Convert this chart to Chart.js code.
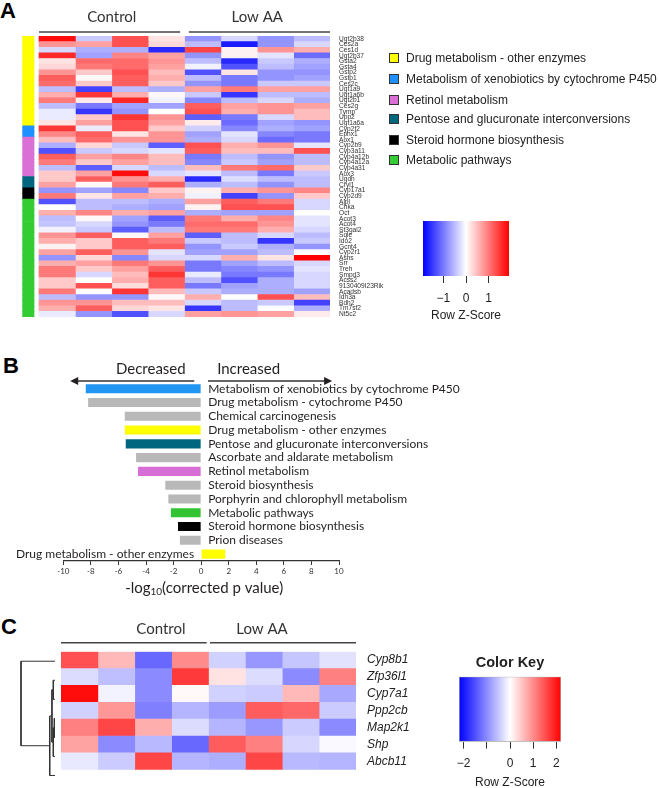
<!DOCTYPE html>
<html>
<head>
<meta charset="utf-8">
<script src="https://cdn.jsdelivr.net/npm/chart.js@4.4.1/dist/chart.umd.min.js"></script>
<style>
    body { margin: 0; background: #fff; }
    #fig { position: relative; width: 659px; height: 788px; overflow: hidden; font-family: "Liberation Sans", Arial, sans-serif; color: #222; }
    canvas { position: absolute; }
    .panel { position: absolute; font: bold 22px/22px "Liberation Sans", Arial, sans-serif; color: #000; }
    .leg { position: absolute; left: 389px; height: 14px; font-size: 12px; line-height: 14px; white-space: nowrap; }
    .leg i { position: absolute; left: 0; top: 2px; width: 8px; height: 8px; border: 1px solid #333; }
    .leg span { position: absolute; left: 17px; top: 0; }
</style>
</head>
<body>
<div id="fig">
    <div class="panel" style="left:0;top:0">A</div>
    <div class="panel" style="left:3px;top:355px">B</div>
    <div class="panel" style="left:1px;top:616px">C</div>
    <canvas id="heatA" width="420" height="330" style="left:0;top:0"></canvas>
    <canvas id="keyA" width="140" height="130" style="left:400px;top:200px"></canvas>
    <canvas id="barsB" width="659" height="260" style="left:0;top:340px"></canvas>
    <canvas id="heatC" width="420" height="188" style="left:0;top:600px"></canvas>
    <canvas id="dendroC" width="61" height="188" style="left:0;top:600px"></canvas>
    <canvas id="keyC" width="150" height="148" style="left:440px;top:640px"></canvas>
    <div id="legendA"></div>
</div>
<script>
// ---- data: panel A ----
const GROUPS = ['Control', 'Low AA'];
const GENES_A = ['Ugt2b38', 'Ces2a', 'Ces1d', 'Ugt2b37', 'Gsta2', 'Gsta4', 'Gstp2', 'Gstp1', 'Ces2c', 'Ugt1a9',
    'Ugt1a6b', 'Ugt2b1', 'Ces2g', 'Tymp', 'Upp2', 'Ugt1a6a', 'Cyp2f2', 'Ephx1', 'Aox1', 'Cyp2b9',
    'Cyp3a11', 'Cyp4a12b', 'Cyp4a12a', 'Cyp4a31', 'Aox3', 'Ugdh', 'Cryl1', 'Cyp17a1', 'Cyp2d9', 'Alpl',
    'Chka', 'Oct', 'Acot3', 'Acot4', 'St3gal2', 'Sqle', 'Ido2', 'Gcnt4', 'Cyp2r1', 'Asns',
    'Srr', 'Treh', 'Smpd3', 'Acss2', '9130409I23Rik', 'Acadsb', 'Idh3a', 'Bdh2', 'Tm7sf2', 'Nt5c2'];
const PATHWAYS = ['Drug metabolism - other enzymes', 'Metabolism of xenobiotics by cytochrome P450', 'Retinol metabolism',
    'Pentose and glucuronate interconversions', 'Steroid hormone biosynthesis', 'Metabolic pathways'];
const PATHWAY_COLORS = ['#ffff00', '#1e90ff', '#da70d6', '#00667f', '#000000', '#33cc33'];
const PATHWAY_SIZES = [16, 2, 7, 2, 2, 21]; // genes per pathway, in row order
// row z-scores, 4 Control then 4 Low AA
const Z_A = [
    [1.8, -0.4, 1.3, 0.2, -0.8, -0.3, -0.8, -0.5],
    [0.8, 0.7, 1.3, 0.3, -0.5, -1.7, -0.8, -0.3],
    [-0.3, -0.6, -0.6, -1.6, 1.4, 0.1, 0.8, 0.6],
    [1.6, -0.7, 0.9, 0.7, -0.8, 0.1, -0.2, -1.1],
    [0.2, 1.1, 1.1, 0.8, -0.5, -1.6, -0.4, -0.6],
    [0.3, 1.0, 1.1, 0.7, -0.1, -1.3, -0.5, -0.7],
    [0.8, 0.4, 1.3, 0.5, -1.3, 0.2, -0.8, -0.8],
    [1.2, 0.05, 1.2, 0.6, -0.5, -1.0, -0.8, -0.7],
    [1.1, 0.4, 1.2, 0.4, -0.8, -1.0, -0.4, -0.4],
    [-0.5, -1.4, -0.5, -0.6, 0.7, 1.0, 0.7, 0.7],
    [0.6, 1.5, 0.6, 0.05, -0.4, -1.5, -0.5, -0.5],
    [1.0, 0.15, 1.6, -0.1, -0.9, -0.5, -0.3, -0.6],
    [-0.5, -1.0, -0.7, -0.7, 1.2, 0.7, 0.8, 0.7],
    [-0.15, -1.5, -0.8, 0.0, 1.3, 0.6, 0.8, 0.5],
    [-0.15, 0.4, 1.5, 0.8, -1.2, -1.0, -0.3, 0.5],
    [0.2, 0.7, 1.3, 0.7, 0.15, -1.1, -0.7, -0.8],
    [1.5, -0.15, 1.3, 0.4, -0.35, -0.9, -0.6, -0.7],
    [0.9, 1.2, 0.2, 0.8, -0.7, -0.2, -0.9, -1.0],
    [0.5, 1.1, 0.8, 0.8, -0.6, -0.3, -1.1, -1.0],
    [-0.6, 0.3, -0.4, -1.2, 1.3, 0.6, 0.8, -0.2],
    [-1.3, -0.4, -0.3, -0.2, 1.2, 0.5, 0.5, 1.3],
    [1.2, 0.7, 0.9, 0.5, -1.0, -0.5, -0.8, -0.5],
    [1.0, 0.4, 0.7, 0.5, -0.9, -0.4, -0.7, -0.5],
    [-0.5, -1.2, -0.3, -0.5, 0.5, 1.0, 1.1, 0.4],
    [0.4, 0.7, 1.8, -0.3, -0.2, -0.5, -1.0, -0.4],
    [0.4, 1.2, 0.8, 0.6, -1.6, -0.25, -0.5, -0.5],
    [0.7, 0.05, 1.0, 1.2, -0.6, -0.5, -0.8, -0.5],
    [-0.8, -0.7, -0.9, 0.4, 0.1, 0.6, 0.8, 0.9],
    [1.0, 0.2, 0.7, 0.6, -0.1, -1.4, -0.8, 0.4],
    [-1.3, -0.5, -0.5, -0.6, 0.7, 1.2, 1.0, -0.3],
    [0.0, -0.5, -0.6, -0.7, 0.1, 1.3, 1.3, -0.3],
    [0.6, 0.9, 0.6, 0.7, -0.6, -0.7, -0.7, 0.0],
    [-0.5, 0.05, -0.7, -1.2, 1.0, 0.6, 0.9, -0.2],
    [-0.45, -0.3, -0.8, -1.0, 1.1, 1.1, 0.8, -0.2],
    [-0.1, -0.4, -1.2, -0.5, 1.0, 1.0, 0.6, -0.3],
    [0.8, 1.2, 0.05, 0.7, -1.2, -0.5, -0.3, -0.5],
    [0.6, 0.4, 1.2, 1.0, -0.4, -0.5, -1.5, -0.4],
    [0.1, 0.4, 1.2, 1.2, -0.8, -0.4, -0.6, -0.8],
    [0.7, 1.2, 0.8, -0.2, -0.7, -0.7, -0.5, 0.0],
    [-0.8, 0.3, -0.9, -0.3, -0.3, 0.6, 0.2, 1.9],
    [0.6, 0.7, 1.0, 0.8, -1.0, -0.7, -0.5, -0.3],
    [1.0, 0.4, 0.7, 1.2, -1.0, -0.9, -0.8, -0.2],
    [1.0, -0.3, 0.5, 1.5, -0.15, -1.0, -1.0, -0.3],
    [0.4, 0.0, 0.6, 1.2, -0.5, -1.3, -0.6, -0.3],
    [0.4, 1.3, 0.25, 1.2, -1.0, -0.7, -0.6, -0.3],
    [1.0, 0.0, 1.5, 0.5, -0.4, -0.6, -0.6, -0.7],
    [-0.5, -0.8, -0.8, 0.05, 0.6, 0.0, 1.3, 0.5],
    [0.8, 0.8, 0.5, 0.5, -0.3, -0.5, -0.4, -1.4],
    [0.6, 1.2, 0.3, 0.2, -1.5, -0.5, 0.0, -0.6],
    [-0.15, -0.8, -1.3, -0.3, 0.7, 0.8, 0.7, 0.15]
];
const KEY_RANGE_A = [-1.9, 1.9];
const KEY_TICKS_A = [-1, 0, 1];

// ---- data: panel B ----
const TERMS_B = ['Metabolism of xenobiotics by cytochrome P450', 'Drug metabolism - cytochrome P450', 'Chemical carcinogenesis',
    'Drug metabolism - other enzymes', 'Pentose and glucuronate interconversions', 'Ascorbate and aldarate metabolism',
    'Retinol metabolism', 'Steroid biosynthesis', 'Porphyrin and chlorophyll metabolism', 'Metabolic pathways',
    'Steroid hormone biosynthesis', 'Prion diseases', 'Drug metabolism - other enzymes'];
const LOGP_B = [-8.37, -8.2, -5.54, -5.54, -5.47, -4.72, -4.58, -2.6, -2.38, -2.19, -1.68, -1.54, 1.75]; // signed -log10(p)
const COLORS_B = ['#2196f3', '#b8b8b8', '#b8b8b8', '#ffff00', '#00667f', '#b8b8b8', '#d66ed6', '#b8b8b8', '#b8b8b8',
    '#33c433', '#000000', '#b8b8b8', '#ffff00'];
const AXIS_B = [-10, 10];

// ---- data: panel C ----
const GENES_C = ['Cyp8b1', 'Zfp36l1', 'Cyp7a1', 'Ppp2cb', 'Map2k1', 'Shp', 'Abcb11'];
const Z_C = [
    [1.5, 0.6, -1.3, 1.0, -0.4, -0.9, -0.5, -0.25],
    [-0.3, -0.55, -1.0, 1.7, 0.25, -0.3, -1.0, 1.1],
    [2.1, -0.1, -1.0, 0.05, -0.4, -0.45, 0.6, -0.75],
    [-0.4, 0.9, -1.1, -0.65, -0.85, 1.4, 1.3, -0.45],
    [1.1, 1.6, 0.7, -0.3, -0.65, -0.9, -0.45, -1.0],
    [0.8, -1.0, -0.6, -1.3, 1.4, 1.1, -0.35, -0.05],
    [-0.2, -0.45, 1.6, -0.65, -0.7, 1.6, -0.6, -0.65]
];
// hclust style: negative = leaf (1-based), positive = earlier merge
const DENDRO_MERGE = [[-2, -3], [-4, -5], [2, -6], [1, 3], [4, -7], [-1, 5]];
const DENDRO_HEIGHT = [0.5, 0.2, 0.5, 0.9, 1.55, 10];
const KEY_RANGE_C = [-2.2, 2.2];
const KEY_TICKS_C = [-2, -1, 0, 1, 2];

// ---- helpers ----
const SANS = '"Liberation Sans", Arial, sans-serif';
const MYRIAD = 'Lato, "Open Sans", sans-serif';

const zColor = (v, lim) => { // blue - white - red
    const t = Math.max(-1, Math.min(1, v / lim));
    const k = Math.round(255 * (1 - Math.abs(t)));
    return t < 0 ? `rgb(${k},${k},255)` : `rgb(255,${k},${k})`;
};

const heatDatasets = (matrix, lim) => matrix[0].map((_, c) => ({
    data: matrix.map(() => [c, c + 1]),
    backgroundColor: matrix.map(row => zColor(row[c], lim)),
    barPercentage: 1, categoryPercentage: 1, grouped: false, borderWidth: 0
}));

const groupHeader = (opt) => ({ // Control / Low AA labels with lines above a heatmap
    id: 'groupHeader',
    afterDraw(chart) {
        const { ctx, scales: { x } } = chart;
        ctx.save();
        ctx.strokeStyle = '#444';
        ctx.lineWidth = 1.5;
        ctx.fillStyle = '#333';
        ctx.font = `15px ${MYRIAD}`;
        ctx.textAlign = 'center';
        ctx.textBaseline = 'middle';
        GROUPS.forEach((g, i) => {
            ctx.beginPath();
            ctx.moveTo(x.getPixelForValue(opt.spans[i][0]), opt.lineY);
            ctx.lineTo(x.getPixelForValue(opt.spans[i][1]), opt.lineY);
            ctx.stroke();
            ctx.fillText(g, x.getPixelForValue(opt.textAt[i]), opt.textY);
        });
        ctx.restore();
    }
});

const keyTitle = (opt) => ({ // text above / below a colour key
    id: 'keyTitle',
    afterDraw(chart) {
        const { ctx, chartArea } = chart;
        const cx = (chartArea.left + chartArea.right) / 2;
        ctx.save();
        ctx.fillStyle = '#222';
        ctx.textAlign = 'center';
        ctx.textBaseline = 'middle';
        opt.forEach(t => { ctx.font = t.font; ctx.fillText(t.text, cx, t.y); });
        ctx.restore();
    }
});

const colorKey = (id, range, ticks, pad, axisH, hideLabels, titles, border) => new Chart(document.getElementById(id), {
    type: 'bar',
    data: {
        labels: [''],
        datasets: [{
            data: [range],
            backgroundColor: (c) => {
                const area = c.chart.chartArea;
                if (!area) return '#fff';
                const g = c.chart.ctx.createLinearGradient(area.left, 0, area.right, 0);
                g.addColorStop(0, '#0000ff');
                g.addColorStop(0.5, '#ffffff');
                g.addColorStop(1, '#ff0000');
                return g;
            },
            borderColor: border || 'rgba(0,0,0,0)',
            borderWidth: border ? 1 : 0,
            borderSkipped: false,
            barPercentage: 1, categoryPercentage: 1
        }]
    },
    options: {
        indexAxis: 'y', responsive: false, animation: false, events: [],
        layout: { padding: pad },
        plugins: { legend: { display: false }, tooltip: { enabled: false } },
        scales: {
            y: { display: false },
            x: {
                type: 'linear', min: range[0], max: range[1],
                afterBuildTicks: s => { s.ticks = ticks.map(v => ({ value: v })); },
                afterFit: s => { s.height = axisH; },
                grid: { drawOnChartArea: false, drawTicks: true, tickLength: 7, color: '#333' },
                border: { display: false },
                ticks: {
                    font: { family: SANS, size: 12 }, color: '#222', padding: 8, maxRotation: 0, autoSkip: false,
                    callback: v => hideLabels.includes(v) ? '' : (v < 0 ? '\u2212' + Math.abs(v) : String(v))
                }
            }
        }
    },
    plugins: [keyTitle(titles)]
});

// ---- panel A: heatmap ----
const rowPathway = PATHWAY_SIZES.flatMap((n, p) => Array(n).fill(p)); // pathway index of each gene row
const SIDE_BAR = [-0.459, -0.137]; // side colour bar in column units

new Chart(document.getElementById('heatA'), {
    type: 'bar',
    data: {
        labels: GENES_A,
        datasets: [{
            data: GENES_A.map(() => SIDE_BAR),
            backgroundColor: rowPathway.map(p => PATHWAY_COLORS[p]),
            barPercentage: 1, categoryPercentage: 1, grouped: false, borderWidth: 0
        }, ...heatDatasets(Z_A, KEY_RANGE_A[1])]
    },
    options: {
        indexAxis: 'y', responsive: false, animation: false, events: [],
        layout: { padding: { left: 22.3, top: 36, right: 0, bottom: 4 } },
        plugins: { legend: { display: false }, tooltip: { enabled: false } },
        scales: {
            x: { type: 'linear', display: false, min: SIDE_BAR[0], max: Z_A[0].length },
            y: {
                position: 'right',
                grid: { display: false, drawTicks: false },
                border: { display: false },
                ticks: { autoSkip: false, padding: 9, font: { family: SANS, size: 6.6 }, color: '#333' },
                afterFit: s => { s.width = 90; }
            }
        }
    },
    plugins: [groupHeader({ spans: [[0, 3.88], [4.12, 8]], textAt: [2, 6], lineY: 32, textY: 17.5 })]
});

// legend of pathways
const legendA = document.getElementById('legendA');
const LEGEND_Y = [58, 79, 100, 119, 140, 160];
PATHWAYS.forEach((name, i) => {
    const row = document.createElement('div');
    row.className = 'leg';
    row.style.top = (LEGEND_Y[i] - 7) + 'px';
    row.innerHTML = `<i style="background:${PATHWAY_COLORS[i]}"></i><span>${name}</span>`;
    legendA.appendChild(row);
});

colorKey('keyA', KEY_RANGE_A, KEY_TICKS_A, { left: 23, right: 31, top: 21, bottom: 0 }, 54, [],
    [{ text: 'Row Z-Score', y: 116, font: `12px ${SANS}` }]);

// ---- panel B: enrichment bars ----
new Chart(document.getElementById('barsB'), {
    type: 'bar',
    data: {
        labels: TERMS_B,
        datasets: [{ data: LOGP_B, backgroundColor: COLORS_B, barPercentage: 0.66, categoryPercentage: 1, borderWidth: 0 }]
    },
    options: {
        indexAxis: 'y', responsive: false, animation: false, events: [],
        layout: { padding: { left: 63.3, right: 320, top: 41.8, bottom: 0 } },
        plugins: { legend: { display: false }, tooltip: { enabled: false } },
        scales: {
            y: { display: false },
            x: {
                min: AXIS_B[0], max: AXIS_B[1],
                afterFit: s => { s.height = 39; },
                grid: { drawOnChartArea: false, drawTicks: true, tickLength: 4, color: '#333' },
                border: { display: true, color: '#333', width: 1.2 },
                ticks: { stepSize: 2, font: { family: MYRIAD, size: 8 }, color: '#333', padding: 2, maxRotation: 0 }
            }
        }
    },
    plugins: [{
        id: 'termLabels',
        afterDatasetsDraw(chart) {
            const { ctx, scales: { x } } = chart;
            const x0 = x.getPixelForValue(0);
            const bars = chart.getDatasetMeta(0).data;
            ctx.save();
            ctx.fillStyle = '#231f20';
            ctx.font = `12px ${MYRIAD}`;
            ctx.textBaseline = 'middle';
            bars.forEach((bar, i) => {
                const neg = LOGP_B[i] < 0;
                ctx.textAlign = neg ? 'left' : 'right';
                ctx.fillText(TERMS_B[i], neg ? x0 + 7 : x0 - 7, bar.y);
            });
            // direction arrows
            const ay = 41;
            ctx.strokeStyle = '#333';
            ctx.lineWidth = 1.3;
            [[-0.5, -9.5], [0.5, 9.5]].forEach(([a, b]) => {
                const xa = x.getPixelForValue(a), xb = x.getPixelForValue(b), d = Math.sign(xb - xa);
                ctx.beginPath(); ctx.moveTo(xa, ay); ctx.lineTo(xb - d * 5, ay); ctx.stroke();
                ctx.beginPath(); ctx.moveTo(xb, ay); ctx.lineTo(xb - d * 8, ay - 4); ctx.lineTo(xb - d * 8, ay + 4); ctx.closePath(); ctx.fill();
            });
            ctx.font = `15px ${MYRIAD}`;
            ctx.textAlign = 'right';
            ctx.fillText('Decreased', x0 - 15.5, 29);
            ctx.textAlign = 'left';
            ctx.fillText('Increased', x0 + 16, 29);
            // axis title with subscript
            const big = `15px ${MYRIAD}`, small = `10px ${MYRIAD}`;
            ctx.font = big; const w1 = ctx.measureText('-log').width, w3 = ctx.measureText('(corrected p value)').width;
            ctx.font = small; const w2 = ctx.measureText('10').width;
            let tx = x0 + 3 - (w1 + w2 + w3) / 2;
            const ty = 248;
            ctx.textAlign = 'left';
            ctx.font = big; ctx.fillText('-log', tx, ty); tx += w1;
            ctx.font = small; ctx.fillText('10', tx, ty + 4); tx += w2;
            ctx.font = big; ctx.fillText('(corrected p value)', tx, ty);
            ctx.restore();
        }
    }]
});

// ---- panel C: heatmap, dendrogram, key ----
new Chart(document.getElementById('heatC'), {
    type: 'bar',
    data: { labels: GENES_C, datasets: heatDatasets(Z_C, KEY_RANGE_C[1]) },
    options: {
        indexAxis: 'y', responsive: false, animation: false, events: [],
        layout: { padding: { left: 61, top: 51.7, right: 0, bottom: 3 } },
        plugins: { legend: { display: false }, tooltip: { enabled: false } },
        scales: {
            x: { type: 'linear', display: false, min: 0, max: Z_C[0].length },
            y: {
                position: 'right',
                grid: { display: false, drawTicks: false },
                border: { display: false },
                ticks: { autoSkip: false, padding: 11, font: { family: SANS, size: 12, style: 'italic' }, color: '#222' },
                afterFit: s => { s.width = 64; }
            }
        }
    },
    plugins: [groupHeader({ spans: [[0, 3.95], [4.04, 8]], textAt: [2.71, 5.45], lineY: 42.7, textY: 29 })]
});

// dendrogram segments from the merge table
const nodePos = [], nodeH = [];
const posOf = (k) => k < 0 ? -k - 0.5 : nodePos[k - 1];
const hOf = (k) => k < 0 ? 0 : nodeH[k - 1];
const dendroSets = DENDRO_MERGE.map(([a, b], i) => {
    const h = DENDRO_HEIGHT[i];
    nodePos[i] = (posOf(a) + posOf(b)) / 2;
    nodeH[i] = h;
    return {
        data: [{ x: hOf(a), y: posOf(a) }, { x: h, y: posOf(a) }, { x: h, y: posOf(b) }, { x: hOf(b), y: posOf(b) }],
        showLine: true, pointRadius: 0, borderColor: '#333', borderWidth: 1, clip: false
    };
});

new Chart(document.getElementById('dendroC'), {
    type: 'scatter',
    data: { datasets: dendroSets },
    options: {
        responsive: false, animation: false, events: [],
        layout: { padding: { left: 21, right: 6, top: 51.7, bottom: 3 } },
        plugins: { legend: { display: false }, tooltip: { enabled: false } },
        scales: {
            x: { type: 'linear', display: false, reverse: true, min: 0, max: Math.max(...DENDRO_HEIGHT) },
            y: { type: 'linear', display: false, reverse: true, min: 0, max: GENES_C.length }
        }
    }
});

colorKey('keyC', KEY_RANGE_C, KEY_TICKS_C, { left: 19, right: 29, top: 36.7, bottom: 0 }, 46.3, [-1],
    [{ text: 'Color Key', y: 23, font: `bold 14.5px ${SANS}` }, { text: 'Row Z-Score', y: 143, font: `12px ${SANS}` }], '#aaa');
</script>
</body>
</html>
